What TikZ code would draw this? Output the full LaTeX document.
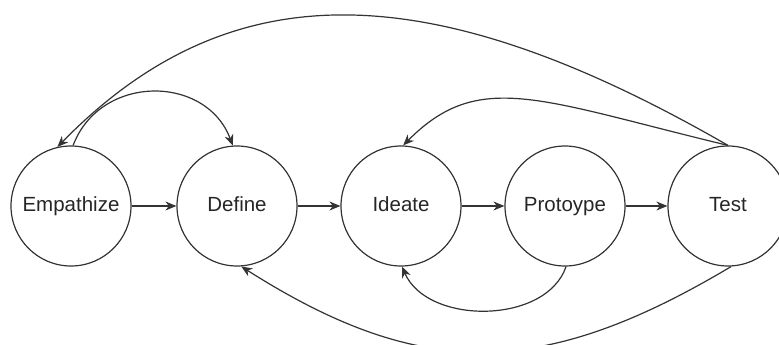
\documentclass[tikz,border=0pt]{standalone}
\usepackage{fontspec}
\setmainfont{Liberation Sans}
\usetikzlibrary{arrows.meta}

\begin{document}
\begin{tikzpicture}[x=1pt, y=-1pt,
      stage/.style={draw=black!80, circle, line width=1.2pt, minimum size=120pt, inner sep=0pt,
                    text height=15pt, text depth=4pt,
                    font=\fontsize{20.5}{24}\selectfont, text=black!85},
      flow/.style={draw=black!80, line width=1.2pt, -{Stealth[length=11pt,width=9pt,inset=3.5pt]}}
    ]
    \useasboundingbox (0,0) rectangle (779,345);
    \foreach \sname/\sx/\stext in {emp/71/Empathize,def/237/Define,ide/401/Ideate,pro/565/Protoype,tst/728/Test}{%
      \node[stage] (\sname) at (\sx,206) {\stext};
    }
    % forward steps
    \draw[flow] (emp) -- (def);
    \draw[flow] (def) -- (ide);
    \draw[flow] (ide) -- (pro);
    \draw[flow] (pro) -- (tst);
    % loops back
    \draw[flow] (emp.88) .. controls (100,74) and (206,74) .. (def.94);
    \draw[flow] (tst.90) .. controls (427,-28) and (229,-28) .. (emp.103);
    \draw[flow] (tst.90) .. controls (539,100) and (479,69) .. (ide.88);
    \draw[flow] (pro.-89) .. controls (546,325) and (427,325) .. (ide.-89);
    \draw[flow] (tst.-87) .. controls (541,380) and (420,380) .. (def.-86);
  \end{tikzpicture}
\end{document}
